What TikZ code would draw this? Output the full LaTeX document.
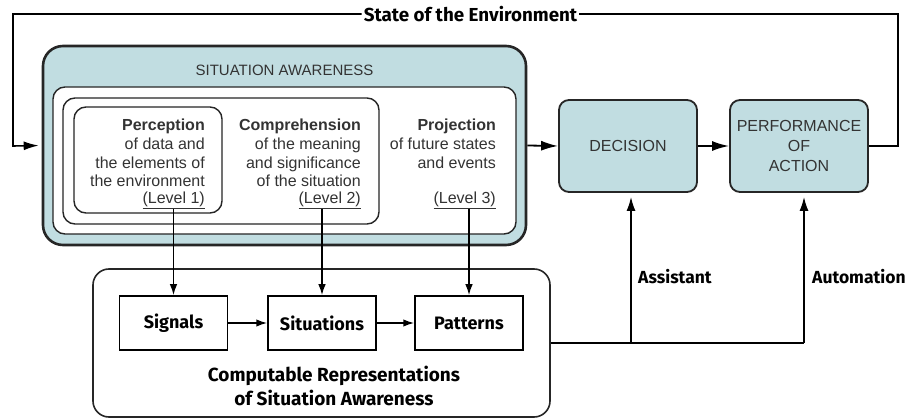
\documentclass[tikz,border=0pt]{standalone}
\usepackage{fontspec}
\setmainfont{Liberation Sans}
\newfontfamily\repfont{Fira Sans}
\usetikzlibrary{arrows.meta,positioning}
\definecolor{saBlue}{HTML}{C1DDE1}
\definecolor{saGray}{HTML}{333333}

\begin{document}
\begin{tikzpicture}[x=1pt,y=-1pt,>={Latex[length=11pt,width=7.5pt]}]

    \tikzstyle{commonNode}=[draw=black!85, inner sep=0pt, rounded corners=12pt]
    \tikzstyle{saBox}=[commonNode, fill=saBlue, line width=2.6pt, rounded corners=20pt]
    \tikzstyle{whiteBox}=[commonNode, fill=white, line width=1.4pt]
    \tikzstyle{stage}=[commonNode, fill=saBlue, line width=1.8pt, rounded corners=10pt, font=\fontsize{16}{20}\selectfont, text=saGray, align=center]
    \tikzstyle{levelText}=[font=\fontsize{16}{18.7}\selectfont, text=saGray, align=right, inner sep=0pt]
    \tikzstyle{rep}=[draw, line width=1.5pt, minimum width=108pt, minimum height=54pt, font=\repfont\bfseries\fontsize{18}{22}\selectfont]
    \tikzstyle{repLabel}=[font=\repfont\bfseries\fontsize{17.5}{24}\selectfont, inner sep=2pt, align=center]
    \tikzstyle{link}=[line width=1.6pt]
    \tikzstyle{bigArrow}=[line width=1.8pt, -{Latex[length=17pt,width=10pt]}]

    \useasboundingbox (0,0) rectangle (907,419);

    % Situation awareness boxes
    \node at (284.5,145.5) [saBox, minimum width=483pt, minimum height=199pt] (sa) {};
    \node at (284.5,70) [font=\fontsize{15}{18}\selectfont, text=saGray] (saTitle) {SITUATION AWARENESS};
    \node at (284.5,160.5) [whiteBox, minimum width=463pt, minimum height=147pt] (saInner) {};
    \node at (221,161) [whiteBox, minimum width=316pt, minimum height=126pt] (pcBox) {};
    \node at (148,160) [whiteBox, minimum width=148pt, minimum height=106pt] (percBox) {};

    % Levels
    \node at (205,119) [levelText, anchor=north east] (perc) {\textbf{Perception}\\of data and\\the elements of\\the environment};
    \node at (205,200) [levelText, anchor=east] (lvl1) {\underline{(Level 1)}};
    \node at (361,119) [levelText, anchor=north east] (comp) {\textbf{Comprehension}\\of the meaning\\and significance\\of the situation};
    \node at (361,200) [levelText, anchor=east] (lvl2) {\underline{(Level 2)}};
    \node at (496,119) [levelText, anchor=north east] (proj) {\textbf{Projection}\\of future states\\and events};
    \node at (496,200) [levelText, anchor=east] (lvl3) {\underline{(Level 3)}};

    % Decision and action
    \node at (628,146) [stage, minimum width=138pt, minimum height=92pt] (decision) {DECISION};
    \node at (799,146) [stage, minimum width=138pt, minimum height=92pt] (action) {PERFORMANCE\\OF\\ACTION};

    % Computable representations
    \node at (321.5,343) [commonNode, line width=1.6pt, rounded corners=16pt, minimum width=457pt, minimum height=148pt] (crsa) {};
    \node at (173.5,323) [rep] (signals) {Signals};
    \node at (322,323) [rep] (situations) {Situations};
    \node at (469,323) [rep] (patterns) {Patterns};
    \node at (334,386) [repLabel, font=\repfont\bfseries\fontsize{19}{24}\selectfont] (crsaTitle) {Computable Representations\\of Situation Awareness};

    % Labels
    \node at (470.5,14) [repLabel, font=\repfont\bfseries\fontsize{18.8}{24}\selectfont] (env) {State of the Environment};
    \node at (636,277) [repLabel, anchor=west] (assistant) {Assistant};
    \node at (810,277) [repLabel, anchor=west] (automation) {Automation};

    \coordinate (envR) at (898,146);
    \coordinate (envL) at (13,146);
    \coordinate (asstFork) at (631,343);
    \coordinate (autoFork) at (804,343);

    % Connectors
    \draw[bigArrow] (sa.east) -- (decision.west);
    \draw[bigArrow] (decision.east) -- (action.west);
    \draw[link] (action.east) -- (envR) |- (env.east);
    \draw[link, -{Latex[length=15pt,width=9pt]}, shorten >=3pt] (env.west) -| (envL) -- (sa.west);

    \draw[link, ->] (signals.north |- lvl1.south) -- (signals.north);
    \draw[link, ->] (situations.north |- lvl2.south) -- (situations.north);
    \draw[link, ->] (patterns.north |- lvl3.south) -- (patterns.north);
    \draw[link, ->] (signals) -- (situations);
    \draw[link, ->] (situations) -- (patterns);

    \draw[link] (crsa.east) -- (autoFork);
    \draw[link, -{Latex[length=14pt,width=9pt]}, shorten >=4pt] (asstFork) -- (asstFork |- decision.south);
    \draw[link, -{Latex[length=14pt,width=9pt]}, shorten >=4pt] (autoFork) -- (autoFork |- action.south);

\end{tikzpicture}
\end{document}
